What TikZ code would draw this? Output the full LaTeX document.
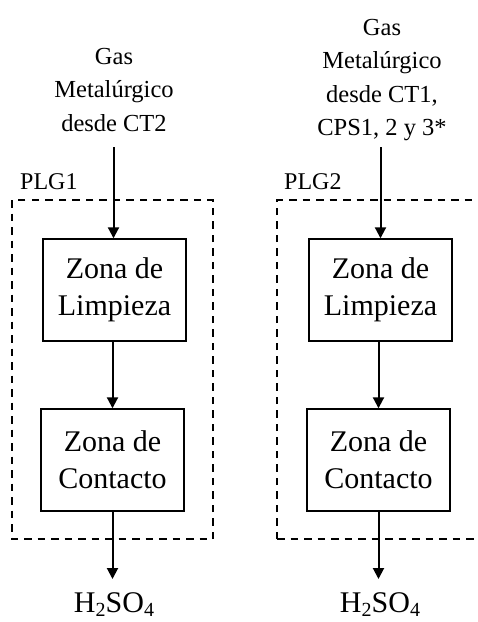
\documentclass[tikz,border=0pt]{standalone}
\usepackage{fontspec}
\setmainfont{Liberation Serif}
\usetikzlibrary{arrows.meta}

\newcommand{\lowidx}[1]{\raisebox{-4pt}{\fontsize{20}{20}\selectfont #1}}

\tikzset{
  zone/.style={draw, line width=1.4pt, minimum width=143pt, minimum height=102pt,
               inner sep=0pt, align=center, font=\fontsize{30}{37}\selectfont},
  feed/.style={align=center, inner sep=0pt, font=\fontsize{24.5}{33.5}\selectfont},
  plant/.style={draw, dashed, dash pattern=on 7.5pt off 6pt, line width=1.4pt},
  flow/.style={line width=2pt, -{Triangle[length=11pt,width=11pt]}},
  tag/.style={anchor=west, inner sep=0pt, font=\fontsize{24}{28}\selectfont},
  product/.style={anchor=base, inner sep=0pt, font=\fontsize{30}{36}\selectfont},
}

\begin{document}
\begin{tikzpicture}[x=1pt, y=-1pt]
\useasboundingbox (0,0) rectangle (478,622);

% plant limits
\draw[plant] (12,200) rectangle (213,539);
\draw[plant] (277,539) -- (277,200) -- (490,200);
\draw[plant] (277,539) -- (490,539);
\node[tag] (plg1) at (20,182) {PLG1};
\node[tag] (plg2) at (284,182) {PLG2};

% line 1
\node[feed] (g1) at (114,90) {Gas\\Metalúrgico\\desde CT2};
\coordinate (s1) at (113.5,147);
\node[zone] (l1) at (114.5,290) {Zona de\\Limpieza};
\node[zone] (c1) at (112.5,460) {Zona de\\Contacto};
\node[product] (p1) at (114,612) {H\lowidx{2}SO\lowidx{4}};
\coordinate (e1) at (112.5,579);

% line 2
\node[feed] (g2) at (382,80) {Gas\\Metalúrgico\\desde CT1,\\CPS1, 2 y 3*};
\coordinate (s2) at (380.5,147);
\node[zone] (l2) at (380.5,290) {Zona de\\Limpieza};
\node[zone] (c2) at (378.5,460) {Zona de\\Contacto};
\node[product] (p2) at (380,612) {H\lowidx{2}SO\lowidx{4}};
\coordinate (e2) at (378.5,579);

% flows
\draw[flow] (s1) -- (s1 |- l1.north);
\draw[flow] (l1.south -| c1) -- (c1.north);
\draw[flow] (c1.south) -- (e1);
\draw[flow] (s2) -- (s2 |- l2.north);
\draw[flow] (l2.south -| c2) -- (c2.north);
\draw[flow] (c2.south) -- (e2);
\end{tikzpicture}
\end{document}
